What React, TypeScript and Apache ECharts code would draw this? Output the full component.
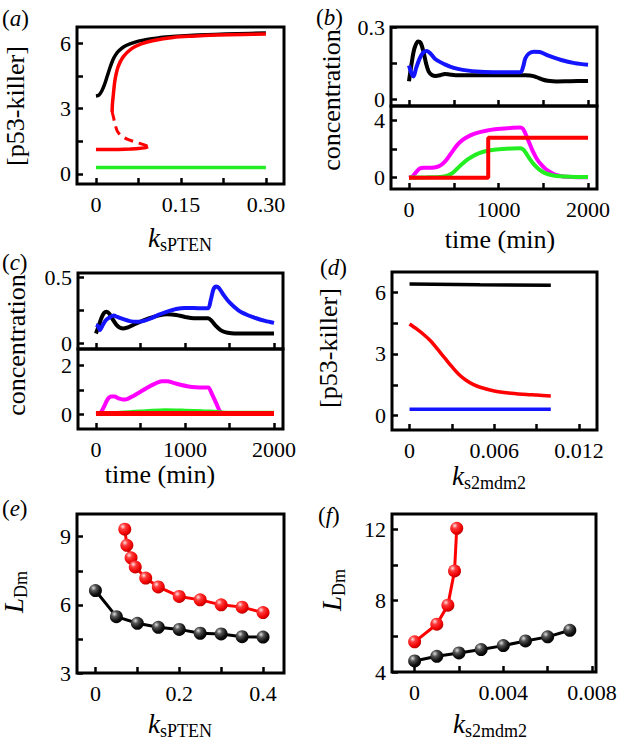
import React, { useEffect, useRef } from 'react';
import * as echarts from 'echarts';

const FONT = 'Liberation Serif';

// ---------- Panel (a): [p53-killer] vs k_sPTEN ----------
const aBlackX = [0, 0.005, 0.01, 0.015, 0.02, 0.025, 0.03, 0.035, 0.04, 0.05, 0.06, 0.075, 0.09, 0.11, 0.13, 0.15, 0.18, 0.21, 0.25, 0.3];
const aBlackY = [3.58, 3.62, 3.8, 4.1, 4.5, 4.9, 5.25, 5.48, 5.65, 5.85, 5.97, 6.1, 6.18, 6.25, 6.3, 6.34, 6.38, 6.41, 6.44, 6.47];
const aRedUpperX = [0.0285, 0.029, 0.0305, 0.0335, 0.039, 0.048, 0.063, 0.08, 0.1, 0.136, 0.17, 0.213, 0.26, 0.3];
const aRedUpperY = [2.85, 3.2, 3.6, 4.3, 4.92, 5.38, 5.76, 5.98, 6.12, 6.27, 6.33, 6.38, 6.41, 6.43];
const aRedMiddleX = [0.0285, 0.031, 0.034, 0.038, 0.045, 0.055, 0.067, 0.08, 0.092];
const aRedMiddleY = [2.85, 2.6, 2.25, 1.95, 1.75, 1.6, 1.49, 1.38, 1.27];
const aRedLowerX = [0, 0.02, 0.04, 0.06, 0.075, 0.085, 0.092];
const aRedLowerY = [1.12, 1.12, 1.13, 1.15, 1.17, 1.2, 1.26];
const aGreenX = [0, 0.1, 0.2, 0.3];
const aGreenY = [0.3, 0.3, 0.3, 0.3];
const aXTicks = [0, 0.075, 0.15, 0.225, 0.3];
const aXLabels = [0, 0.15, 0.3];
const aYTicks = [0, 1.5, 3, 4.5, 6];
const aYLabels = [0, 3, 6];

// ---------- Panel (b): time courses ----------
const bBlackT = [0, 30, 60, 100, 130, 160, 190, 220, 260, 300, 350, 400, 450, 520, 700, 900, 1100, 1300, 1350, 1400, 1450, 1500, 1550, 1650, 1800, 2000];
const bBlackY = [0.075, 0.15, 0.21, 0.24, 0.235, 0.2, 0.15, 0.115, 0.1, 0.097, 0.1, 0.105, 0.103, 0.1, 0.1, 0.1, 0.1, 0.1, 0.099, 0.095, 0.088, 0.081, 0.077, 0.074, 0.075, 0.076];
const bBlueT = [0, 25, 50, 80, 120, 160, 200, 240, 300, 400, 500, 600, 800, 1000, 1200, 1250, 1275, 1300, 1340, 1400, 1460, 1550, 1700, 1850, 2000];
const bBlueY = [0.14, 0.11, 0.095, 0.13, 0.17, 0.195, 0.2, 0.19, 0.165, 0.145, 0.13, 0.122, 0.114, 0.112, 0.112, 0.113, 0.135, 0.17, 0.19, 0.197, 0.196, 0.182, 0.163, 0.15, 0.143];
const bMagentaT = [0, 40, 80, 120, 160, 220, 280, 330, 380, 430, 480, 540, 600, 680, 760, 860, 960, 1060, 1160, 1240, 1270, 1300, 1340, 1380, 1430, 1480, 1530, 1580, 1640, 1720, 1820, 2000];
const bMagentaY = [0, 0.1, 0.4, 0.65, 0.7, 0.7, 0.72, 0.8, 1.0, 1.35, 1.8, 2.3, 2.65, 2.95, 3.15, 3.3, 3.4, 3.45, 3.5, 3.52, 3.45, 3.1, 2.5, 1.9, 1.3, 0.9, 0.6, 0.38, 0.2, 0.09, 0.05, 0.03];
const bGreenT = [0, 200, 350, 420, 480, 540, 600, 660, 740, 830, 930, 1050, 1150, 1240, 1270, 1300, 1350, 1400, 1460, 1520, 1600, 1700, 1850, 2000];
const bGreenY = [0.02, 0.03, 0.06, 0.12, 0.3, 0.65, 1.0, 1.3, 1.6, 1.82, 1.95, 2.02, 2.05, 2.06, 2.0, 1.8, 1.3, 0.9, 0.55, 0.32, 0.18, 0.1, 0.06, 0.05];
const bRedT = [0, 885, 885, 2000];
const bRedY = [0, 0, 2.8, 2.8];
const bTopYTicks = [0, 0.15, 0.3];
const bTopYLabels = [0, 0.3];
const bBotYTicks = [0, 2, 4];
const bBotYLabels = [0, 4];

// ---------- Panel (c): time courses ----------
const cBlackT = [0, 30, 60, 90, 120, 150, 190, 230, 270, 310, 360, 420, 500, 600, 700, 800, 900, 1000, 1100, 1200, 1260, 1300, 1350, 1400, 1450, 1520, 1600, 2000];
const cBlackY = [0.075, 0.13, 0.19, 0.23, 0.24, 0.225, 0.18, 0.14, 0.118, 0.113, 0.12, 0.14, 0.165, 0.19, 0.21, 0.22, 0.215, 0.2, 0.19, 0.19, 0.19, 0.17, 0.13, 0.1, 0.085, 0.077, 0.075, 0.075];
const cBlueT = [0, 25, 45, 70, 110, 160, 200, 240, 300, 380, 460, 540, 620, 700, 800, 900, 1000, 1100, 1200, 1260, 1290, 1320, 1350, 1380, 1430, 1500, 1600, 1700, 1800, 1900, 2000];
const cBlueY = [0.14, 0.13, 0.1, 0.13, 0.175, 0.2, 0.21, 0.2, 0.185, 0.168, 0.163, 0.17, 0.19, 0.215, 0.24, 0.26, 0.268, 0.268, 0.265, 0.265, 0.33, 0.41, 0.43, 0.42, 0.37, 0.31, 0.25, 0.215, 0.19, 0.17, 0.155];
const cMagentaT = [0, 50, 90, 130, 170, 210, 250, 300, 350, 420, 500, 580, 660, 740, 800, 880, 960, 1040, 1120, 1200, 1260, 1300, 1350, 1390, 1420, 1500, 2000];
const cMagentaY = [0, 0.05, 0.3, 0.6, 0.72, 0.72, 0.65, 0.6, 0.62, 0.75, 0.92, 1.1, 1.25, 1.36, 1.36, 1.28, 1.2, 1.14, 1.11, 1.1, 1.1, 0.85, 0.45, 0.12, 0.02, 0, 0];
const cGreenT = [0, 200, 400, 600, 780, 1000, 1200, 1300, 1400, 1500, 2000];
const cGreenY = [0.03, 0.04, 0.08, 0.13, 0.16, 0.14, 0.11, 0.1, 0.07, 0.05, 0.05];
const cRedT = [0, 2000];
const cRedY = [0.02, 0.02];
const cTopYTicks = [0, 0.25, 0.5];
const cTopYLabels = [0, 0.5];
const cBotYTicks = [0, 1, 2];
const cBotYLabels = [0, 2];
const timeTicks = [0, 500, 1000, 1500, 2000];
const timeLabels = [0, 1000, 2000];

// ---------- Panel (d): [p53-killer] vs k_s2mdm2 ----------
const dBlackX = [0, 0.005, 0.01];
const dBlackY = [6.4, 6.37, 6.35];
const dRedX = [0, 0.0005, 0.001, 0.0015, 0.002, 0.0025, 0.003, 0.0035, 0.004, 0.0045, 0.005, 0.006, 0.007, 0.008, 0.009, 0.01];
const dRedY = [4.46, 4.22, 3.95, 3.63, 3.22, 2.8, 2.38, 2.0, 1.72, 1.52, 1.38, 1.2, 1.1, 1.04, 1.0, 0.96];
const dBlueX = [0, 0.005, 0.01];
const dBlueY = [0.31, 0.31, 0.31];
const dXTicks = [0, 0.003, 0.006, 0.009, 0.012];
const dXLabels = [0, 0.006, 0.012];
const dYTicks = [0, 1.5, 3, 4.5, 6];
const dYLabels = [0, 3, 6];

// ---------- Panel (e): L_Dm vs k_sPTEN ----------
const eBlackX = [0, 0.05, 0.1, 0.15, 0.2, 0.25, 0.3, 0.35, 0.4];
const eBlackY = [6.63, 5.48, 5.19, 5.01, 4.92, 4.75, 4.72, 4.6, 4.58];
const eRedX = [0.07, 0.075, 0.085, 0.095, 0.12, 0.15, 0.2, 0.25, 0.3, 0.35, 0.4];
const eRedY = [9.33, 8.62, 8.07, 7.67, 7.18, 6.79, 6.37, 6.22, 6.0, 5.9, 5.66];
const eXTicks = [0, 0.1, 0.2, 0.3, 0.4];
const eXLabels = [0, 0.2, 0.4];
const eYTicks = [3, 4.5, 6, 7.5, 9];
const eYLabels = [3, 6, 9];

// ---------- Panel (f): L_Dm vs k_s2mdm2 ----------
const fBlackX = [0, 0.001, 0.002, 0.003, 0.004, 0.005, 0.006, 0.007];
const fBlackY = [4.62, 4.88, 5.07, 5.26, 5.48, 5.74, 5.97, 6.34];
const fRedX = [0, 0.001, 0.0015, 0.0018, 0.0019];
const fRedY = [5.69, 6.68, 7.75, 9.67, 12.06];
const fXTicks = [0, 0.002, 0.004, 0.006, 0.008];
const fXLabels = [0, 0.004, 0.008];
const fYTicks = [4, 6, 8, 10, 12];
const fYLabels = [4, 8, 12];

const BLACK = '#000000';
const RED = '#ff0000';
const GREEN = '#22ee22';
const BLUE = '#1414ff';
const MAGENTA = '#ff00ff';

function pairs(xs: number[], ys: number[]) {
  return xs.map((x, i) => [x, ys[i]]);
}

const fmtPlain = (v: number) => String(v);
const fmtFixed = (d: number) => (v: number) => (v === 0 ? '0' : v.toFixed(d));

function xAxis(gi: number, min: number, max: number, ticks: number[], labels: number[] | null, fmt: (v: number) => string) {
  return {
    type: 'value', gridIndex: gi, min, max,
    axisLine: { show: false, onZero: false },
    splitLine: { show: false },
    axisTick: { show: true, inside: true, length: 6, customValues: ticks, lineStyle: { color: '#000', width: 2.5 } },
    axisLabel: {
      show: !!labels, customValues: labels || [], formatter: fmt,
      fontFamily: FONT, fontSize: 22, color: '#000', margin: 9,
    },
  };
}

function yAxis(gi: number, min: number, max: number, ticks: number[], labels: number[], fmt: (v: number) => string) {
  return {
    type: 'value', gridIndex: gi, min, max,
    axisLine: { show: false, onZero: false },
    splitLine: { show: false },
    axisTick: { show: true, inside: true, length: 6, customValues: ticks, lineStyle: { color: '#000', width: 2.5 } },
    axisLabel: {
      show: true, customValues: labels, formatter: fmt,
      fontFamily: FONT, fontSize: 22, color: '#000', margin: 6,
    },
  };
}

function line(gi: number, data: number[][], color: string, width: number, smooth: number | boolean, dashed = false) {
  return {
    type: 'line', xAxisIndex: gi, yAxisIndex: gi, data,
    symbol: 'none', showSymbol: false, smooth,
    lineStyle: { color, width, type: dashed ? [9, 6] : 'solid' },
  };
}

function ballLine(gi: number, data: number[][], dark: boolean) {
  const grad = dark
    ? new echarts.graphic.RadialGradient(0.35, 0.3, 0.75, [
        { offset: 0, color: '#e0e0e0' },
        { offset: 0.3, color: '#555555' },
        { offset: 0.7, color: '#111111' },
        { offset: 1, color: '#000000' },
      ])
    : new echarts.graphic.RadialGradient(0.35, 0.3, 0.75, [
        { offset: 0, color: '#ffe0e0' },
        { offset: 0.3, color: '#ff3a3a' },
        { offset: 0.75, color: '#ee0000' },
        { offset: 1, color: '#b00000' },
      ]);
  return {
    type: 'line', xAxisIndex: gi, yAxisIndex: gi, data,
    symbol: 'circle', symbolSize: 13, showSymbol: true,
    lineStyle: { color: dark ? BLACK : RED, width: 3 },
    itemStyle: { color: grad, borderWidth: 0 },
  };
}

function panelLabel(x: number, y: number, letter: string) {
  return {
    type: 'text', x, y,
    style: {
      text: `{p|(}{i|${letter}}{p|)}`,
      fontFamily: FONT, fontSize: 23, fill: '#000',
      align: 'left', verticalAlign: 'middle',
      rich: {
        p: { fontFamily: FONT, fontSize: 23, fill: '#000' },
        i: { fontFamily: FONT, fontSize: 23, fontStyle: 'italic', fill: '#000' },
      },
    },
  };
}

function plainName(x: number, y: number, text: string, rotate = false) {
  return {
    type: 'text', x, y, rotation: rotate ? Math.PI / 2 : 0,
    style: { text, fontFamily: FONT, fontSize: 26, fill: '#000', align: 'center', verticalAlign: 'middle' },
  };
}

function subName(x: number, y: number, main: string, sub: string, rotate = false) {
  return {
    type: 'text', x, y, rotation: rotate ? Math.PI / 2 : 0,
    style: {
      text: `{m|${main}}{s|${sub}}`,
      fontFamily: FONT, fontSize: 26, fill: '#000',
      align: 'center', verticalAlign: 'middle',
      rich: {
        m: { fontFamily: FONT, fontSize: 27, fontStyle: 'italic', fill: '#000', lineHeight: 32 },
        s: { fontFamily: FONT, fontSize: 18, fill: '#000', lineHeight: 18, verticalAlign: 'bottom' },
      },
    },
  };
}

const gridBoxes = [
  { left: 77, top: 27, width: 207, height: 157 }, // a
  { left: 391, top: 27, width: 206, height: 79 }, // b top
  { left: 391, top: 106, width: 206, height: 83 }, // b bottom
  { left: 78, top: 273, width: 205, height: 76 }, // c top
  { left: 78, top: 349, width: 205, height: 80 }, // c bottom
  { left: 392, top: 272, width: 205, height: 158 }, // d
  { left: 77, top: 514, width: 207, height: 159 }, // e
  { left: 392, top: 514, width: 204, height: 158 }, // f
];

export default function App() {
  const ref = useRef<HTMLDivElement>(null);
  useEffect(() => {
    if (!ref.current) return;
    const chart = echarts.init(ref.current, undefined, { renderer: 'svg' });
    const option: any = {
      animation: false,
      backgroundColor: '#ffffff',
      grid: gridBoxes.map((g) => ({ ...g, show: true, borderColor: '#000', borderWidth: 3 })),
      xAxis: [
        xAxis(0, -0.0335, 0.332, aXTicks, aXLabels, fmtFixed(2)),
        xAxis(1, -201, 2100, timeTicks, null, fmtPlain),
        xAxis(2, -201, 2100, timeTicks, timeLabels, fmtPlain),
        xAxis(3, -202, 2101, timeTicks, null, fmtPlain),
        xAxis(4, -202, 2101, timeTicks, timeLabels, fmtPlain),
        xAxis(5, -0.00124, 0.01327, dXTicks, dXLabels, fmtFixed(3)),
        xAxis(6, -0.044, 0.45, eXTicks, eXLabels, fmtFixed(1)),
        xAxis(7, -0.00102, 0.00818, fXTicks, fXLabels, fmtFixed(3)),
      ],
      yAxis: [
        yAxis(0, -0.46, 6.75, aYTicks, aYLabels, fmtPlain),
        yAxis(1, -0.028, 0.3, bTopYTicks, bTopYLabels, fmtPlain),
        yAxis(2, -0.79, 5.03, bBotYTicks, bBotYLabels, fmtPlain),
        yAxis(3, -0.043, 0.533, cTopYTicks, cTopYLabels, fmtPlain),
        yAxis(4, -0.62, 2.69, cBotYTicks, cBotYLabels, fmtPlain),
        yAxis(5, -0.7, 6.99, dYTicks, dYLabels, fmtPlain),
        yAxis(6, 3, 10, eYTicks, eYLabels, fmtPlain),
        yAxis(7, 4, 12.86, fYTicks, fYLabels, fmtPlain),
      ],
      series: [
        line(0, pairs(aGreenX, aGreenY), GREEN, 3.5, false),
        line(0, pairs(aBlackX, aBlackY), BLACK, 3.5, 0.3),
        line(0, pairs(aRedUpperX, aRedUpperY), RED, 3.5, 0.3),
        line(0, pairs(aRedMiddleX, aRedMiddleY), RED, 3, 0.3, true),
        line(0, pairs(aRedLowerX, aRedLowerY), RED, 3.5, 0.3),
        line(1, pairs(bBlackT, bBlackY), BLACK, 4, 0.3),
        line(1, pairs(bBlueT, bBlueY), BLUE, 4, 0.3),
        line(2, pairs(bMagentaT, bMagentaY), MAGENTA, 4, 0.3),
        line(2, pairs(bGreenT, bGreenY), GREEN, 4, 0.3),
        line(2, pairs(bRedT, bRedY), RED, 4, false),
        line(3, pairs(cBlackT, cBlackY), BLACK, 4, 0.3),
        line(3, pairs(cBlueT, cBlueY), BLUE, 4, 0.3),
        line(4, pairs(cMagentaT, cMagentaY), MAGENTA, 4, 0.3),
        line(4, pairs(cGreenT, cGreenY), GREEN, 4, 0.3),
        line(4, pairs(cRedT, cRedY), RED, 5, false),
        line(5, pairs(dBlackX, dBlackY), BLACK, 3.5, false),
        line(5, pairs(dRedX, dRedY), RED, 3.5, 0.3),
        line(5, pairs(dBlueX, dBlueY), BLUE, 3.5, false),
        ballLine(6, pairs(eBlackX, eBlackY), true),
        ballLine(6, pairs(eRedX, eRedY), false),
        ballLine(7, pairs(fBlackX, fBlackY), true),
        ballLine(7, pairs(fRedX, fRedY), false),
      ],
      graphic: [
        panelLabel(2, 18, 'a'),
        panelLabel(316, 17, 'b'),
        panelLabel(2, 262, 'c'),
        panelLabel(320, 267, 'd'),
        panelLabel(2, 508, 'e'),
        panelLabel(318, 515, 'f'),
        subName(180, 238, 'k', 'sPTEN'),
        plainName(15, 106, '[p53-killer]', true),
        plainName(500, 239, 'time (min)'),
        plainName(331, 100, 'concentration', true),
        plainName(160, 474, 'time (min)'),
        plainName(16, 345, 'concentration', true),
        subName(489, 476, 'k', 's2mdm2'),
        plainName(328, 348, '[p53-killer]', true),
        subName(180, 724, 'k', 'sPTEN'),
        subName(14, 592, 'L', 'Dm', true),
        subName(490, 724, 'k', 's2mdm2'),
        subName(332, 590, 'L', 'Dm', true),
      ],
    };
    chart.setOption(option);
    return () => chart.dispose();
  }, []);
  return <div ref={ref} style={{ position: 'absolute', left: 0, top: 0, width: 621, height: 742 }} />;
}
